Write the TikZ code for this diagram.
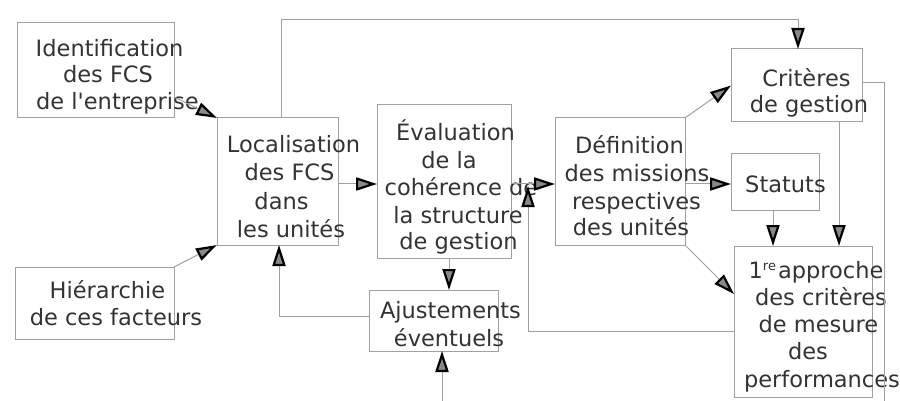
\documentclass[tikz,border=0pt]{standalone}
\usepackage{fontspec}
\setmainfont{DejaVu Sans}
\usetikzlibrary{arrows.meta,calc}
\definecolor{boxline}{HTML}{A0A0A0}
\definecolor{txt}{HTML}{333333}
\definecolor{tipfill}{HTML}{888888}
\begin{document}
\begin{tikzpicture}[x=1pt,y=-1pt,
  box/.style={draw=boxline,line width=1pt,inner sep=0pt,outer sep=0pt},
  lbl/.style={anchor=base,inner sep=0pt,outer sep=0pt,font=\fontsize{22.5}{27}\selectfont,text=txt},
  conn/.style={draw=boxline,line width=1pt},
  >={Triangle[length=21pt,width=13pt,line width'=2.2pt,color=black,fill=tipfill]}]
\useasboundingbox (0,0) rectangle (900,401);
% boxes
\node[box,minimum width=157pt,minimum height=95pt] (ident) at (95.5,70.5) {};
\node[box,minimum width=121pt,minimum height=127pt] (loc) at (277.5,181.5) {};
\node[box,minimum width=159pt,minimum height=72pt] (hier) at (94.5,303) {};
\node[box,minimum width=134pt,minimum height=153pt] (eval) at (444,181.5) {};
\node[box,minimum width=129pt,minimum height=61pt] (ajust) at (433.5,320.5) {};
\node[box,minimum width=130pt,minimum height=127pt] (defn) at (620,181.5) {};
\node[box,minimum width=131pt,minimum height=73pt] (crit) at (796.5,85.5) {};
\node[box,minimum width=88pt,minimum height=56pt] (stat) at (775,182) {};
\node[box,minimum width=138pt,minimum height=151pt] (appr) at (803,321.5) {};
% texts
\node[lbl] (ident1) at (109.5,57) {Identification};
\node[lbl] (ident2) at (108,83) {des FCS};
\node[lbl] (ident3) at (117.5,110) {de l\textquotesingle entreprise};
\node[lbl] (loc1) at (293.5,153) {Localisation};
\node[lbl] (loc2) at (289.5,181) {des FCS};
\node[lbl] (loc3) at (281.5,209) {dans};
\node[lbl] (loc4) at (291,237) {les unités};
\node[lbl] (hier1) at (107.5,298) {Hiérarchie};
\node[lbl] (hier2) at (116,325) {de ces facteurs};
\node[lbl] (eval1) at (455.5,141) {Évaluation};
\node[lbl] (eval2) at (449,168) {de la};
\node[lbl] (eval3) at (461,196) {cohérence de};
\node[lbl] (eval4) at (458,223) {la structure};
\node[lbl] (eval5) at (458.5,249) {de gestion};
\node[lbl] (ajust1) at (450.5,318) {Ajustements};
\node[lbl] (ajust2) at (449,346) {éventuels};
\node[lbl] (defn1) at (629.5,154) {Définition};
\node[lbl] (defn2) at (637,182) {des missions};
\node[lbl] (defn3) at (636.5,209) {respectives};
\node[lbl] (defn4) at (631,235) {des unités};
\node[lbl] (crit1) at (806.5,87) {Critères};
\node[lbl] (crit2) at (809,113) {de gestion};
\node[lbl] (stat1) at (785.5,193) {Statuts};
\node[lbl] (appr1) at (816,278) {1\raisebox{8pt}{\fontsize{13}{13}\selectfont re}\kern2pt approche};
\node[lbl] (appr2) at (821,305) {des critères};
\node[lbl] (appr3) at (818.5,332) {de mesure};
\node[lbl] (appr4) at (808,359) {des};
\node[lbl] (appr5) at (822,387) {performances};
% helper coordinates
\coordinate (top) at (0,20);
\coordinate (lt) at ([xshift=3.5pt]loc.north);
\coordinate (ct) at ([xshift=1.5pt]crit.north);
\coordinate (lc) at ([yshift=-2.5pt]loc.east);
\coordinate (ec) at ([yshift=-2.5pt]eval.east);
\coordinate (dc) at ([yshift=-2.5pt]defn.east);
\coordinate (af) at ([yshift=-9.5pt]appr.west);
\coordinate (upend) at (528,186);
\coordinate (ea) at ([xshift=5pt]eval.south);
\coordinate (bot) at (442,401);
\coordinate (ce) at ([yshift=2.5pt]crit.east);
\coordinate (rbot) at (884,401);
\coordinate (ss) at ([xshift=-2pt]stat.south);
\coordinate (cs) at ([xshift=42.5pt]crit.south);
% connectors
\draw[conn,->] ([yshift=-26.5pt]ident.east) -- (loc.north west);
\draw[conn,->] (hier.north east) -- (loc.south west);
\draw[conn,->] (lc) -- (lc -| eval.west);
\draw[conn,->] (lt) -- (lt |- top) -- (ct |- top) -- (ct);
\draw[conn,->] (ec) -- (ec -| defn.west);
\draw[conn,->] (af) -| (upend);
\draw[conn,->] (ea) -- (ea |- ajust.north);
\draw[conn,->] ([yshift=4.5pt]ajust.west) -| ([xshift=1.5pt]loc.south);
\draw[conn,->] (bot) -- (bot |- ajust.south);
\draw[conn] (ce) -| (rbot);
\draw[conn,->] (defn.north east) -- (crit.west);
\draw[conn,->] (dc) -- (dc -| stat.west);
\draw[conn,->] (defn.south east) -- ([yshift=27.5pt]appr.west);
\draw[conn,->] (ss) -- (ss |- appr.north);
\draw[conn,->] (cs) -- (cs |- appr.north);
\end{tikzpicture}
\end{document}
